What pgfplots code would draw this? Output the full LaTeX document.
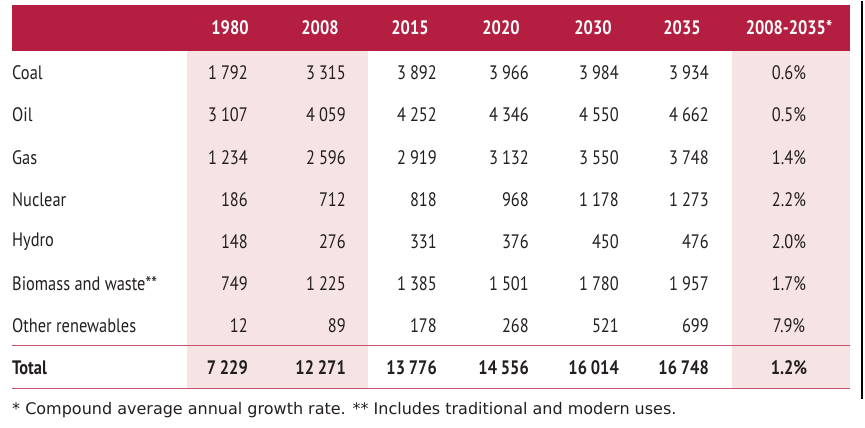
\documentclass[border=0pt]{standalone}
\usepackage{pgfplots}
\pgfplotsset{compat=1.18}
\usepackage{pgfplotstable}
\usepackage{fontspec}
\setmainfont{PT Sans}[FakeStretch=0.84]
\newfontfamily\notefont{DejaVu Sans}
\definecolor{hdr}{RGB}{179,30,65}
\definecolor{pinkbg}{RGB}{246,228,228}
\definecolor{rulec}{RGB}{200,80,110}
\definecolor{txt}{RGB}{35,31,32}
\newcommand\tabsize{\fontsize{19.5}{21}\selectfont}

% y = row position (pixels from top), then values
\pgfplotstableread{
y   c1980 c2008 c2015 c2020 c2030 c2035 g
72  1792  3315  3892  3966  3984  3934  0.6
114 3107  4059  4252  4346  4550  4662  0.5
157 1234  2596  2919  3132  3550  3748  1.4
199 186   712   818   968   1178  1273  2.2
241 148   276   331   376   450   476   2.0
283 749   1225  1385  1501  1780  1957  1.7
325 12    89    178   268   521   699   7.9
}\rows
\pgfplotstableread{
y   c1980 c2008 c2015 c2020 c2030 c2035 g
367 7229  12271 13776 14556 16014 16748 1.2
}\total
\pgfplotstableread[col sep=comma]{
x,y,name
12,72,Coal
12,114,Oil
12,157,Gas
12,199,Nuclear
12,241,Hydro
12,283,Biomass and waste**
12,325,Other renewables
}\labels
\pgfplotstableread[col sep=comma]{
x,y,head
230,27,1980
320,27,2008
410,27,2015
501,27,2020
593,27,2030
682,27,2035
789,27,2008-2035*
}\heads

\pgfplotsset{
  numcol/.style={draw=none, mark=none, nodes near coords, point meta=explicit,
    every node near coord/.append style={anchor=east, inner sep=0pt, font=\tabsize, text=txt},
    /pgf/number format/fixed, /pgf/number format/precision=0,
    /pgf/number format/1000 sep={\hspace{0.2em}}, /pgf/number format/assume math mode=true},
  pctcol/.style={draw=none, mark=none, point meta=explicit,
    nodes near coords={\pgfmathprintnumber[fixed,fixed zerofill,precision=1,assume math mode=true]{\pgfplotspointmeta}\%},
    every node near coord/.append style={anchor=center, inner sep=0pt, font=\tabsize, text=txt}},
}

\begin{document}
\begin{tikzpicture}
\begin{axis}[scale only axis, width=865pt, height=427pt,
  xmin=0, xmax=865, ymin=0, ymax=427, y dir=reverse,
  hide axis, clip=false]
  % backgrounds
  \fill[hdr] (axis cs:12,4) rectangle (axis cs:850,50);
  \fill[pinkbg] (axis cs:187,50) rectangle (axis cs:368,388);
  \fill[pinkbg] (axis cs:732,50) rectangle (axis cs:850,388);
  \draw[rulec, line width=1.6pt] (axis cs:12,345) -- (axis cs:850,345);
  \draw[rulec, line width=1.6pt] (axis cs:12,388) -- (axis cs:850,388);
  \draw[black, line width=1.2pt] (axis cs:862,0) -- (axis cs:862,398);
  % header
  \addplot[draw=none, mark=none, nodes near coords, point meta=explicit symbolic,
    every node near coord/.append style={anchor=center, inner sep=0pt, font=\bfseries\tabsize, text=white}]
    table[x=x, y=y, meta=head] {\heads};
  % row labels
  \addplot[draw=none, mark=none, nodes near coords, point meta=explicit symbolic,
    every node near coord/.append style={anchor=west, inner sep=0pt, font=\tabsize, text=txt}]
    table[x=x, y=y, meta=name] {\labels};
  % values
  \addplot[numcol] table[x expr=248, y=y, meta=c1980] {\rows};
  \addplot[numcol] table[x expr=346, y=y, meta=c2008] {\rows};
  \addplot[numcol] table[x expr=437, y=y, meta=c2015] {\rows};
  \addplot[numcol] table[x expr=529, y=y, meta=c2020] {\rows};
  \addplot[numcol] table[x expr=619, y=y, meta=c2030] {\rows};
  \addplot[numcol] table[x expr=709, y=y, meta=c2035] {\rows};
  \addplot[pctcol] table[x expr=789, y=y, meta=g] {\rows};
  % total row
  \addplot[numcol, every node near coord/.append style={font=\bfseries\tabsize}] table[x expr=248, y=y, meta=c1980] {\total};
  \addplot[numcol, every node near coord/.append style={font=\bfseries\tabsize}] table[x expr=346, y=y, meta=c2008] {\total};
  \addplot[numcol, every node near coord/.append style={font=\bfseries\tabsize}] table[x expr=437, y=y, meta=c2015] {\total};
  \addplot[numcol, every node near coord/.append style={font=\bfseries\tabsize}] table[x expr=529, y=y, meta=c2020] {\total};
  \addplot[numcol, every node near coord/.append style={font=\bfseries\tabsize}] table[x expr=619, y=y, meta=c2030] {\total};
  \addplot[numcol, every node near coord/.append style={font=\bfseries\tabsize}] table[x expr=709, y=y, meta=c2035] {\total};
  \addplot[pctcol, every node near coord/.append style={font=\bfseries\tabsize}] table[x expr=789, y=y, meta=g] {\total};
  \node[anchor=west, inner sep=0pt, font=\bfseries\tabsize, text=txt] at (axis cs:12,367) {Total};
  % footnote
  \node[anchor=west, inner sep=0pt, font=\notefont\fontsize{16}{18}\selectfont, text=txt] at (axis cs:12,409)
    {* Compound average annual growth rate. ** Includes traditional and modern uses.};
\end{axis}
\path (0,0) rectangle (865pt,427pt);
\end{tikzpicture}
\end{document}
